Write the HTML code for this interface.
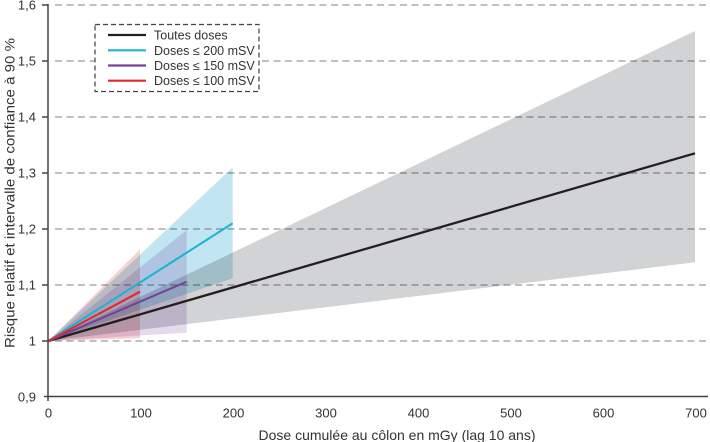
<!DOCTYPE html>
<html>
<head>
<meta charset="utf-8">
<style>
  html,body{margin:0;padding:0;background:#fff;}
  svg{display:block;}
  text{font-family:"Liberation Sans",Arial,Helvetica,sans-serif;fill:#333;}
  .band{mix-blend-mode:multiply;}
</style>
</head>
<body>
<svg width="710" height="442" viewBox="0 0 710 442" xmlns="http://www.w3.org/2000/svg">
  <rect width="710" height="442" fill="#fff"/>
  <!-- gridlines -->
  <g stroke="#9a9a9a" stroke-width="1.2" stroke-dasharray="7 4.5">
    <line x1="55" y1="5" x2="708" y2="5"/>
    <line x1="55" y1="61" x2="708" y2="61"/>
    <line x1="55" y1="117" x2="708" y2="117"/>
    <line x1="55" y1="173" x2="708" y2="173"/>
    <line x1="55" y1="229" x2="708" y2="229"/>
    <line x1="55" y1="285" x2="708" y2="285"/>
    <line x1="55" y1="341" x2="708" y2="341"/>
  </g>
  <!-- bands -->
  <g>
    <polygon class="band" points="48.3,341 695,31 695,262.3" fill="#d1d3d4"/>
    <polygon class="band" points="48.3,341 232.7,167.3 232.7,278.3" fill="#c2e6f1"/>
    <polygon class="band" points="48.3,341 186.7,230 186.7,332.7" fill="#e6daef"/>
    <polygon class="band" points="48.3,341 140,249.3 140,338.3" fill="#f6d2d2"/>
  </g>
  <!-- lines -->
  <g stroke-linecap="butt" fill="none">
    <line x1="48.3" y1="341" x2="695" y2="153.3" stroke="#231f20" stroke-width="2.3"/>
    <line x1="48.3" y1="341" x2="232.7" y2="223.3" stroke="#1fb3d3" stroke-width="2.1"/>
    <line x1="48.3" y1="341" x2="186.7" y2="281.7" stroke="#73439a" stroke-width="2.1"/>
    <line x1="48.3" y1="341" x2="140" y2="291.7" stroke="#e02830" stroke-width="2.1"/>
  </g>
  <!-- axes -->
  <g stroke="#444" stroke-width="1.5">
    <line x1="48" y1="4" x2="48" y2="401"/>
    <line x1="44" y1="396.5" x2="708" y2="396.5"/>
    <line x1="42" y1="5" x2="48" y2="5"/>
    <line x1="42" y1="61" x2="48" y2="61"/>
    <line x1="42" y1="117" x2="48" y2="117"/>
    <line x1="42" y1="173" x2="48" y2="173"/>
    <line x1="42" y1="229" x2="48" y2="229"/>
    <line x1="42" y1="285" x2="48" y2="285"/>
    <line x1="42" y1="341" x2="48" y2="341"/>
  </g>
  <!-- y tick labels -->
  <g font-size="13" text-anchor="end">
    <text x="36" y="9.5">1,6</text>
    <text x="36" y="65.5">1,5</text>
    <text x="36" y="121.5">1,4</text>
    <text x="36" y="177.5">1,3</text>
    <text x="36" y="233.5">1,2</text>
    <text x="36" y="289.5">1,1</text>
    <text x="36" y="345.5">1</text>
    <text x="36" y="401.5">0,9</text>
  </g>
  <!-- x tick labels -->
  <g font-size="13" text-anchor="middle">
    <text x="48.5" y="417.5">0</text>
    <text x="141" y="417.5">100</text>
    <text x="233.5" y="417.5">200</text>
    <text x="326" y="417.5">300</text>
    <text x="418.5" y="417.5">400</text>
    <text x="511" y="417.5">500</text>
    <text x="603.5" y="417.5">600</text>
    <text x="696" y="417.5">700</text>
  </g>
  <!-- axis titles -->
  <text x="258.5" y="440" font-size="14" textLength="277" lengthAdjust="spacingAndGlyphs">Dose cumulée au côlon en mGy (lag 10 ans)</text>
  <text transform="translate(14.5,348) rotate(-90)" x="0" y="0" font-size="14" textLength="310" lengthAdjust="spacingAndGlyphs">Risque relatif et intervalle de confiance à 90 %</text>
  <!-- legend -->
  <rect x="95" y="24.5" width="164" height="67" fill="#fff" stroke="#444" stroke-width="1.2" stroke-dasharray="5 3"/>
  <g stroke-width="2.2">
    <line x1="108" y1="35" x2="146" y2="35" stroke="#231f20"/>
    <line x1="108" y1="50.3" x2="146" y2="50.3" stroke="#1fb3d3"/>
    <line x1="108" y1="65.5" x2="146" y2="65.5" stroke="#73439a"/>
    <line x1="108" y1="80.7" x2="146" y2="80.7" stroke="#e02830"/>
  </g>
  <g font-size="12.5">
    <text x="154" y="39.5">Toutes doses</text>
    <text x="154" y="54.8">Doses ≤ 200 mSV</text>
    <text x="154" y="70">Doses ≤ 150 mSV</text>
    <text x="154" y="85.2">Doses ≤ 100 mSV</text>
  </g>
</svg>
</body>
</html>
